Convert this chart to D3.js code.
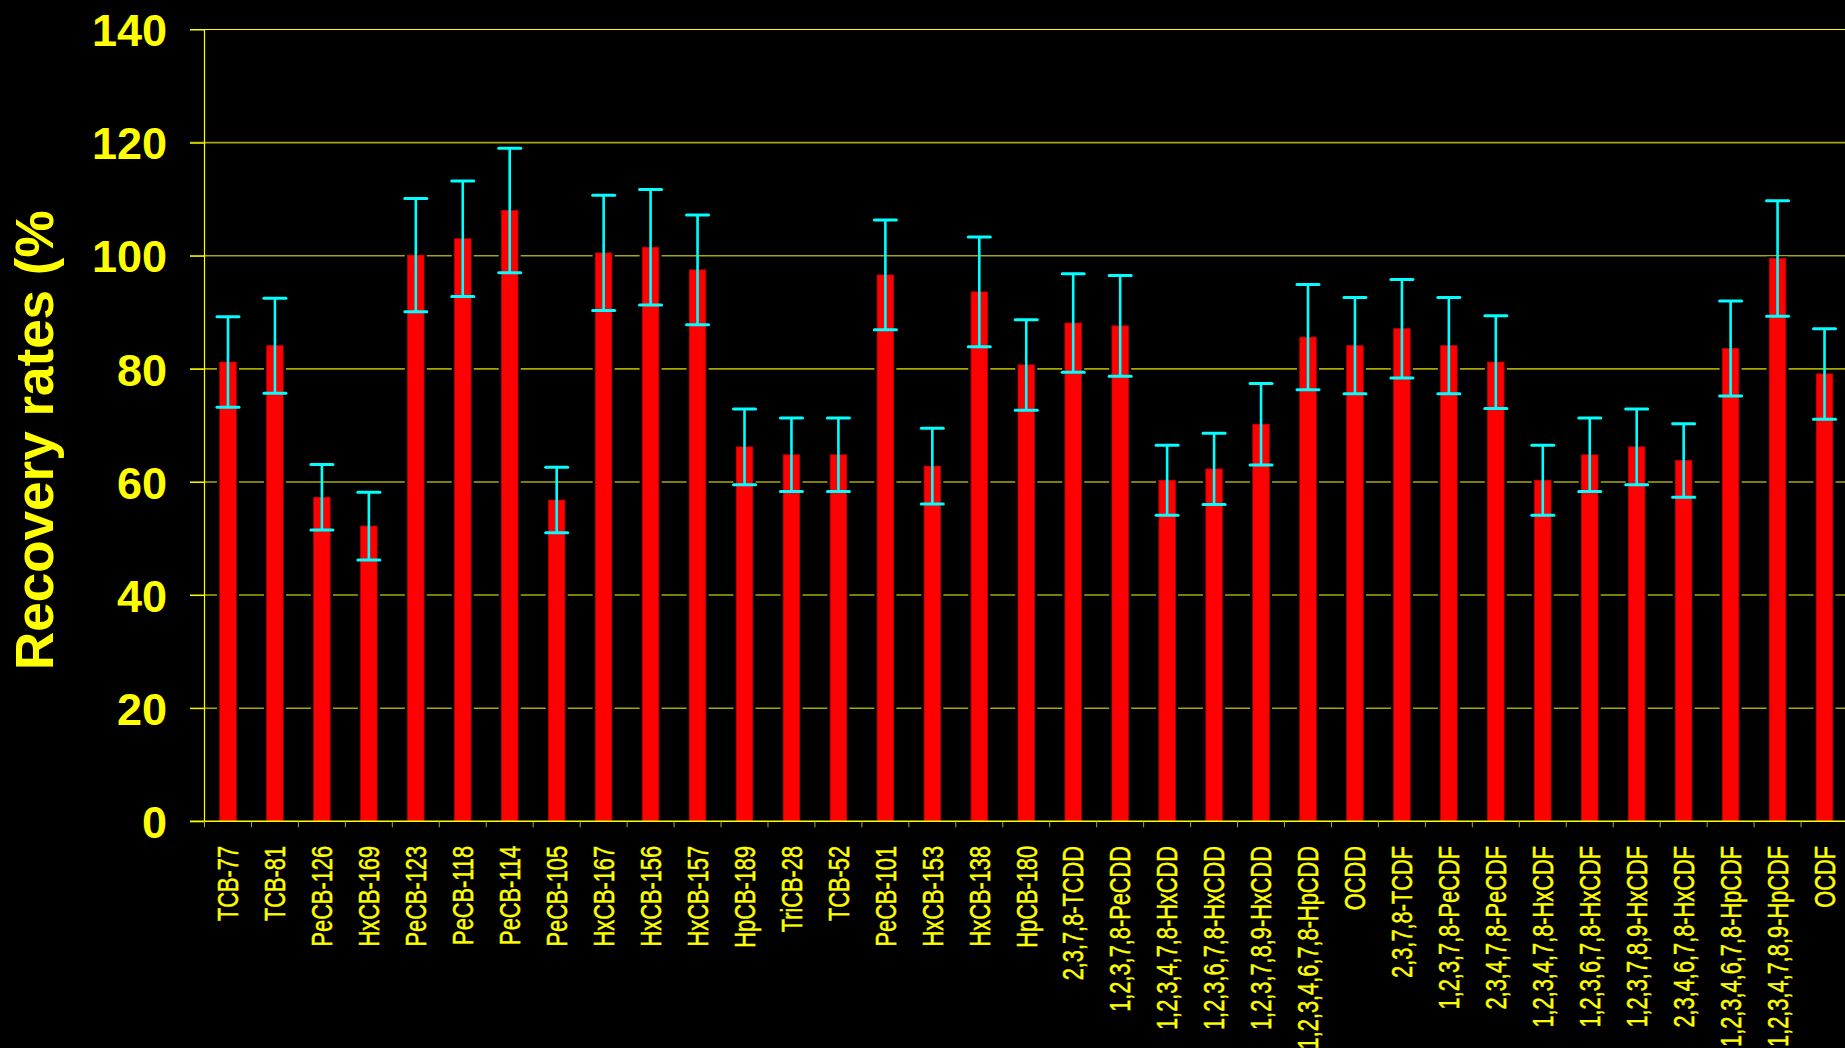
<!DOCTYPE html>
<html>
<head>
<meta charset="utf-8">
<script src="https://cdn.jsdelivr.net/npm/d3@7"></script>
<style>
  html, body { margin: 0; padding: 0; background: #000; overflow: hidden; }
  svg { display: block; }
</style>
</head>
<body>
<svg class="recovery" width="1845" height="1048"></svg>
<script>
var categories = ["TCB-77", "TCB-81", "PeCB-126", "HxCB-169", "PeCB-123", "PeCB-118", "PeCB-114",
  "PeCB-105", "HxCB-167", "HxCB-156", "HxCB-157", "HpCB-189", "TriCB-28", "TCB-52", "PeCB-101",
  "HxCB-153", "HxCB-138", "HpCB-180", "2,3,7,8-TCDD", "1,2,3,7,8-PeCDD", "1,2,3,4,7,8-HxCDD",
  "1,2,3,6,7,8-HxCDD", "1,2,3,7,8,9-HxCDD", "1,2,3,4,6,7,8-HpCDD", "OCDD", "2,3,7,8-TCDF",
  "1,2,3,7,8-PeCDF", "2,3,4,7,8-PeCDF", "1,2,3,4,7,8-HxCDF", "1,2,3,6,7,8-HxCDF",
  "1,2,3,7,8,9-HxCDF", "2,3,4,6,7,8-HxCDF", "1,2,3,4,6,7,8-HpCDF", "1,2,3,4,7,8,9-HpCDF", "OCDF"];

var recovery = [81.2, 84.1, 57.3, 52.2, 100.1, 103.0, 108.0, 56.8, 100.5, 101.5, 97.5, 66.2,
  64.8, 64.8, 96.6, 62.8, 93.6, 80.7, 88.1, 87.6, 60.3, 62.3, 70.2, 85.6, 84.1, 87.1, 84.1,
  81.2, 60.3, 64.8, 66.2, 63.8, 83.6, 99.5, 79.1];

var deviation = [8.0, 8.4, 5.8, 6.0, 10.0, 10.2, 11.0, 5.8, 10.2, 10.2, 9.7, 6.7, 6.5, 6.5,
  9.7, 6.7, 9.7, 8.0, 8.7, 8.9, 6.2, 6.3, 7.2, 9.3, 8.5, 8.7, 8.5, 8.2, 6.2, 6.5, 6.7, 6.5,
  8.4, 10.2, 8.0];

var yTicks = [0, 20, 40, 60, 80, 100, 120, 140];
var yTitle = "Recovery rates (%";

document.addEventListener('DOMContentLoaded', function () {
  "use strict";
  var svg = d3.select("svg.recovery");
  var yellow = "#ffff00";
  var labelFont = "'Liberation Sans', Arial, sans-serif";

  var x = d3.scaleBand().domain(categories).range([204.5, 1848]);
  var y = d3.scaleLinear().domain([0, 140]).range([821.3, 29.5]);

  var rows = categories.map(function (name, i) {
    return { name: name, value: recovery[i], sd: deviation[i] };
  });

  var barWidth = x.bandwidth() * 0.35;
  var capWidth = 22;

  // grid lines, running a little left of the axis like the tick marks
  svg.append("g")
    .selectAll("line")
      .data(yTicks.slice(1))
    .enter().append("line")
      .attr("x1", 190).attr("x2", 1845)
      .attr("y1", function (d) { return y(d); })
      .attr("y2", function (d) { return y(d); })
      .attr("stroke", function (d) { return d === 140 ? yellow : "#a8a800"; })
      .attr("stroke-width", function (d) { return d === 140 ? 1.2 : 1.6; });

  // black knock-out behind each bar, the gridlines break there
  svg.append("g")
    .selectAll("rect")
      .data(rows)
    .enter().append("rect")
      .attr("x", function (d) { return x(d.name) + x.bandwidth() / 2 - capWidth / 2; })
      .attr("width", capWidth)
      .attr("y", function (d) { return y(d.value) - 2; })
      .attr("height", function (d) { return y(0) - y(d.value) + 2; })
      .attr("fill", "#000");

  // y axis ticks and labels
  var yAxis = svg.append("g")
    .attr("transform", "translate(204.5,0)")
    .call(d3.axisLeft(y).tickValues(yTicks).tickSize(14.5).tickPadding(23));
  yAxis.select(".domain").remove();
  yAxis.selectAll(".tick line").attr("stroke", yellow).attr("stroke-width", 1);
  yAxis.selectAll(".tick text")
    .attr("fill", yellow)
    .attr("font-family", labelFont)
    .attr("font-weight", "bold")
    .attr("font-size", 45)
    .attr("dy", "0.36em");

  // bars
  svg.append("g")
    .selectAll("rect")
      .data(rows)
    .enter().append("rect")
      .attr("x", function (d) { return x(d.name) + x.bandwidth() / 2 - barWidth / 2; })
      .attr("width", barWidth)
      .attr("y", function (d) { return y(d.value); })
      .attr("height", function (d) { return y(0) - y(d.value); })
      .attr("fill", "#ff0000")
      .attr("stroke", "#c80000")
      .attr("stroke-width", 0.8);

  // error bars
  var err = svg.append("g")
    .selectAll("g")
      .data(rows)
    .enter().append("g")
      .attr("stroke", "#00ffff");
  err.append("line")
    .attr("x1", function (d) { return x(d.name) + x.bandwidth() / 2; })
    .attr("x2", function (d) { return x(d.name) + x.bandwidth() / 2; })
    .attr("y1", function (d) { return y(d.value + d.sd); })
    .attr("y2", function (d) { return y(d.value - d.sd); })
    .attr("stroke-width", 2.6);
  [1, -1].forEach(function (sign) {
    err.append("line")
      .attr("x1", function (d) { return x(d.name) + x.bandwidth() / 2 - capWidth / 2; })
      .attr("x2", function (d) { return x(d.name) + x.bandwidth() / 2 + capWidth / 2; })
      .attr("y1", function (d) { return y(d.value + sign * d.sd); })
      .attr("y2", function (d) { return y(d.value + sign * d.sd); })
      .attr("stroke-width", 3)
      .attr("stroke-linecap", "round");
  });

  // axis lines
  svg.append("line")
    .attr("x1", 204.5).attr("x2", 204.5)
    .attr("y1", y(140)).attr("y2", y(0))
    .attr("stroke", yellow).attr("stroke-width", 1.2);
  svg.append("line")
    .attr("x1", 190).attr("x2", 1845)
    .attr("y1", y(0)).attr("y2", y(0))
    .attr("stroke", yellow).attr("stroke-width", 1.6);

  // category boundary ticks
  svg.append("g")
    .selectAll("line")
      .data(categories)
    .enter().append("line")
      .attr("x1", function (d) { return x(d); })
      .attr("x2", function (d) { return x(d); })
      .attr("y1", y(0)).attr("y2", y(0) + 6)
      .attr("stroke", "#b0b000").attr("stroke-width", 1);

  // category labels, tall and narrow like the original bitmap font
  svg.append("g")
    .selectAll("text")
      .data(categories)
    .enter().append("text")
      .attr("transform", function (d) {
        return "translate(" + (x(d) + x.bandwidth() / 2) + ",846) rotate(-90) scale(1,1.35)";
      })
      .attr("text-anchor", "end")
      .attr("dy", 7.6)
      .attr("fill", yellow)
      .attr("stroke", yellow)
      .attr("stroke-width", 0.35)
      .attr("font-family", labelFont)
      .attr("font-size", 21.8)
      .text(function (d) { return d; });

  // y title
  svg.append("text")
    .attr("transform", "translate(53,670) rotate(-90)")
    .attr("text-anchor", "start")
    .attr("fill", yellow)
    .attr("font-family", labelFont)
    .attr("font-weight", "bold")
    .attr("font-size", 53)
    .text(yTitle);
}, false);
</script>
</body>
</html>
